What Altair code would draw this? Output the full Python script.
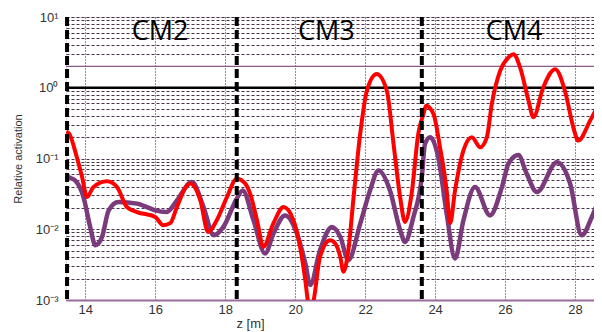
import altair as alt
import pandas as pd

# ---- data ----
z_red = [13.46, 13.54, 13.76, 13.91, 14.05, 14.23, 14.62, 14.91, 15.19, 15.48, 16.0, 16.23, 16.43,
         16.62, 16.91, 17.0, 17.29, 17.51, 17.76, 18.05, 18.33, 18.57, 18.71, 18.91, 19.09, 19.38,
         19.67, 19.95, 20.14, 20.29, 20.36, 20.44, 20.53, 20.71, 21.0, 21.14, 21.29, 21.38, 21.52,
         21.67, 21.86, 22.05, 22.33, 22.62, 22.81, 23.0, 23.14, 23.33, 23.52, 23.67, 23.74, 23.95,
         24.14, 24.33, 24.43, 24.57, 24.81, 25.05, 25.29, 25.48, 25.62, 25.86, 26.09, 26.24, 26.43,
         26.67, 26.81, 27.09, 27.43, 27.71, 27.95, 28.09, 28.43, 28.77]
v_red = [0.24, 0.225, 0.104, 0.0546, 0.0285, 0.0391, 0.0475, 0.0394, 0.0206, 0.0175, 0.0149, 0.0114,
         0.0122, 0.0206, 0.0417, 0.0445, 0.0256, 0.00916, 0.0134, 0.0285, 0.0518, 0.0445, 0.0321,
         0.0134, 0.00563, 0.0122, 0.0206, 0.0134, 0.00563, 0.0019, 0.0010, 0.0007, 0.0010, 0.00407,
         0.0070, 0.00635, 0.00407, 0.00251, 0.00506, 0.0285, 0.225, 0.908, 1.56, 0.908, 0.163, 0.0285,
         0.0127, 0.0321, 0.225, 0.430, 0.558, 0.430, 0.144, 0.0354, 0.0122, 0.0354, 0.130, 0.200,
         0.144, 0.200, 0.589, 1.74, 2.67, 2.98, 1.93, 0.656, 0.382, 1.01, 1.83, 0.908, 0.276, 0.179,
         0.343, 0.73]

z_pur = [13.46, 13.54, 13.71, 13.95, 14.14, 14.29, 14.48, 14.67, 14.95, 15.48, 15.76, 16.0, 16.33,
         16.62, 17.05, 17.38, 17.67, 17.95, 18.33, 18.5, 18.81, 19.14, 19.38, 19.71, 20.05, 20.29,
         20.43, 20.71, 21.05, 21.29, 21.52, 21.86, 22.14, 22.38, 22.71, 23.0, 23.14, 23.38, 23.62,
         23.71, 23.86, 24.09, 24.33, 24.57, 24.81, 25.14, 25.57, 25.91, 26.1, 26.38, 26.6, 26.91,
         27.48, 27.86, 28.19, 28.48, 28.77]
v_pur = [0.056, 0.054, 0.049, 0.0285, 0.0108, 0.00595, 0.0078, 0.0185, 0.0243, 0.0230, 0.0206, 0.0185,
         0.0175, 0.0256, 0.0464, 0.0206, 0.0082, 0.0108, 0.0271, 0.0354, 0.0134, 0.00455, 0.00869,
         0.0157, 0.00869, 0.00329, 0.00163, 0.00506, 0.0108, 0.0078, 0.00366, 0.0120, 0.0354, 0.0678,
         0.0354, 0.0097, 0.00662, 0.0149, 0.0546, 0.161, 0.200, 0.104, 0.0166, 0.00387, 0.0134, 0.0394,
         0.0157, 0.0394, 0.085, 0.112, 0.064, 0.0335, 0.0887, 0.0440, 0.0082, 0.0149, 0.0354]

section_z = [13.48, 18.33, 23.62]
section_labels = ["CM2", "CM3", "CM4"]
label_z = [16.14, 20.89, 26.26]
label_v = [6.1, 6.1, 6.1]
x_ticks = [14, 16, 18, 20, 22, 24, 26, 28]
y_grid = [m * 10.0 ** e for e in range(-3, 1) for m in range(1, 10)] + [10.0]

RED = "#FF0000"
PURPLE = "#7A3A7C"

df_red = pd.DataFrame({"z": z_red, "v": v_red})
df_pur = pd.DataFrame({"z": z_pur, "v": v_pur})
df_sec = pd.DataFrame({"z": section_z})
df_lab = pd.DataFrame({"z": label_z, "v": label_v, "t": section_labels})
df_one = pd.DataFrame({"v": [1.0]})
df_two = pd.DataFrame({"v": [2.0]})

xscale = alt.Scale(domain=[13.45, 28.77], nice=False, zero=False)
yscale = alt.Scale(type="log", domain=[0.001, 10], nice=False)

label_expr = ("datum.value >= 9.99 ? '10¹' : abs(datum.value-1) < 1e-9 ? '10⁰' : "
              "abs(datum.value-0.1) < 1e-9 ? '10⁻¹' : abs(datum.value-0.01) < 1e-9 ? '10⁻²' : "
              "abs(datum.value-0.001) < 1e-9 ? '10⁻³' : ''")

x_enc = alt.X("z:Q", scale=xscale, axis=alt.Axis(
    values=x_ticks, grid=True, gridDash=[1, 2], gridColor="#222222", gridWidth=1,
    ticks=False, domainColor="#9a6a9c", domainWidth=2, labelPadding=3, labelFontSize=13,
    labelColor="#333333", labelFlush=False, title="z [m]", titleFontSize=13,
    titleFontWeight="normal", titleColor="#333333", titleX=184, titleY=27,
    titleBaseline="alphabetic", titleAlign="center"))
y_enc = alt.Y("v:Q", scale=yscale, axis=alt.Axis(
    values=y_grid, grid=True, gridDash=[3, 2], gridColor="#4a304a", gridWidth=1.1,
    ticks=False, domain=False, labelExpr=label_expr, labelOverlap=False, labelFlush=False,
    labelPadding=8, labelFontSize=13, labelColor="#333333", title="Relative activation",
    titleFontSize=11, titleFontWeight="normal", titleColor="#333333", titlePadding=12))

purple_line = alt.Chart(df_pur).mark_line(color=PURPLE, strokeWidth=4.5, interpolate="monotone",
                                          clip=True).encode(x=x_enc, y=y_enc)
red_line = alt.Chart(df_red).mark_line(color=RED, strokeWidth=4, interpolate="monotone",
                                       clip=True).encode(x="z:Q", y="v:Q")
rule_one = alt.Chart(df_one).mark_rule(color="black", strokeWidth=2.5).encode(y="v:Q")
rule_two = alt.Chart(df_two).mark_rule(color="#8a5a8c", strokeWidth=1.3).encode(y="v:Q")
sec_rules = alt.Chart(df_sec).mark_rule(color="black", strokeWidth=4,
                                        strokeDash=[9, 4]).encode(x="z:Q")
labels = alt.Chart(df_lab).mark_text(font="Open Sans", fontSize=27, color="black",
                                     baseline="middle", align="center").encode(
    x="z:Q", y="v:Q", text="t:N")

chart = alt.layer(purple_line, rule_two, rule_one, red_line, sec_rules, labels).properties(
    width=536, height=283,
    autosize=alt.AutoSizeParams(type="none"),
    padding={"left": 58, "top": 9, "right": -8, "bottom": 31},
).configure_view(stroke="#9a9a9a", strokeWidth=1.5).configure(font="Liberation Sans")

chart.save("out.html", embed_options={"renderer": "svg", "actions": False})
